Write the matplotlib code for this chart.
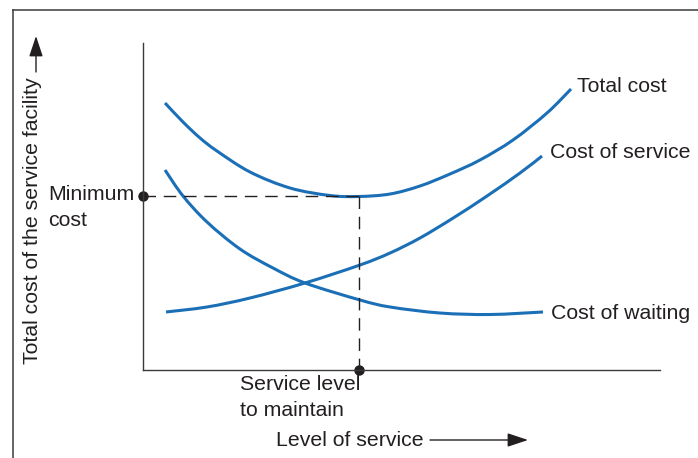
"""Queuing cost trade-off chart: total cost vs. level of service
"""

import matplotlib
matplotlib.use("Agg")
import matplotlib.pyplot as plt
import numpy as np
from matplotlib.lines import Line2D
from matplotlib.patches import FancyArrowPatch, PathPatch
from matplotlib.path import Path

# Curve readings (level of service 0-100, cost 0-100)
total_x = [4.26, 7.74, 11.03, 14.31, 20.70, 28.43, 36.17, 41.78, 47.78,
           53.58, 59.38, 65.18, 71.57, 78.14, 82.79]
total_y = [81.65, 75.84, 70.95, 66.97, 60.55, 55.66, 53.36, 53.06, 53.82,
           56.27, 59.94, 64.22, 70.34, 78.59, 85.93]

service_x = [4.45, 12.38, 20.70, 31.33, 41.97, 47.78, 53.58, 60.0, 66.54,
             72.92, 77.18]
service_y = [17.74, 19.27, 22.02, 26.61, 32.11, 35.78, 40.37, 46.48, 53.21,
             60.24, 65.44]

waiting_x = [4.26, 7.74, 12.38, 18.76, 25.15, 31.33, 41.97, 47.78, 57.45,
             67.12, 77.37]
waiting_y = [61.16, 53.21, 45.26, 37.00, 31.19, 26.61, 21.41, 19.27, 17.43,
             16.97, 17.74]

min_x = 41.8
min_y = 53.06

curve_labels = ["Total cost", "Cost of service", "Cost of waiting"]

W, H = 698, 458
BLUE = "#1b6fb6"
INK = "#231f20"
FONT = "Liberation Sans"
FS = 15.3

plt.rcParams["font.family"] = [FONT, "DejaVu Sans"]


def fx(px):
    return px / W


def fy(py):
    return 1 - py / H


def smooth_path(xs, ys):
    """Cubic Bezier path through the readings (Catmull-Rom tangents)"""
    p = np.column_stack([xs, ys])
    verts = [p[0]]
    codes = [Path.MOVETO]
    for i in range(len(p) - 1):
        p0 = p[i - 1] if i > 0 else p[i]
        p3 = p[i + 2] if i + 2 < len(p) else p[i + 1]
        c1 = p[i] + (p[i + 1] - p0) / 6
        c2 = p[i + 1] - (p3 - p[i]) / 6
        verts += [c1, c2, p[i + 1]]
        codes += [Path.CURVE4] * 3
    return Path(verts, codes)


fig = plt.figure(figsize=(W / 100, H / 100), dpi=100)
ax = fig.add_axes([fx(143), fy(370), (660 - 143) / W, (370 - 43) / H])
ax.set_xlim(0, 100)
ax.set_ylim(0, 100)
for side in ["top", "right"]:
    ax.spines[side].set_visible(False)
for side in ["left", "bottom"]:
    ax.spines[side].set_color("#3a3a3a")
    ax.spines[side].set_linewidth(1.0)
ax.set_xticks([])
ax.set_yticks([])
ax.patch.set_alpha(0)

# Cost curves
for xs, ys in [(total_x, total_y), (service_x, service_y), (waiting_x, waiting_y)]:
    ax.add_patch(PathPatch(smooth_path(xs, ys), facecolor="none",
                           edgecolor=BLUE, lw=2.2, capstyle="butt"))

# Minimum guides
ax.plot([0, min_x], [min_y, min_y], color=INK, lw=1.0, dashes=(9, 5.6))
ax.plot([min_x, min_x], [min_y, 0], color=INK, lw=1.0, dashes=(9, 5.6))
ax.plot([0, min_x], [min_y, 0], linestyle="none", marker="o", ms=6.5,
        color=INK, clip_on=False)

# Curve labels
ends = [(total_x[-1], total_y[-1]), (service_x[-1], service_y[-1]),
        (waiting_x[-1], waiting_y[-1])]
offsets = [(6, 3), (8, 4), (8, -2)]
for label, (ex, ey), off in zip(curve_labels, ends, offsets):
    ax.annotate(label, (ex, ey), xytext=off, textcoords="offset pixels",
                ha="left", va="center", fontsize=FS, color=INK,
                annotation_clip=False)

txt = dict(fontsize=FS, color=INK, transform=fig.transFigure)
fig.text(fx(48), fy(195), "Minimum", ha="left", va="center", **txt)
fig.text(fx(48), fy(221), "cost", ha="left", va="center", **txt)
fig.text(fx(240), fy(385), "Service level", ha="left", va="center", **txt)
fig.text(fx(240), fy(410), "to maintain", ha="left", va="center", **txt)
fig.text(fx(276), fy(440), "Level of service", ha="left", va="center", **txt)
fig.text(fx(33), fy(221), "Total cost of the service facility", ha="center",
         va="center", rotation=90, **txt)

# Axis arrows
arrow = dict(arrowstyle="-|>,head_length=0.9,head_width=0.3", color=INK,
             lw=1.0, shrinkA=0, shrinkB=0, mutation_scale=14)
fig.add_artist(FancyArrowPatch((fx(430), fy(440)), (fx(528), fy(440)),
                               transform=fig.transFigure, **arrow))
fig.add_artist(FancyArrowPatch((fx(36), fy(72)), (fx(36), fy(36)),
                               transform=fig.transFigure, **arrow))

# Page frame
frame = dict(color="#3a3a3a", lw=1.1, transform=fig.transFigure)
fig.add_artist(Line2D([fx(13), 1], [fy(10), fy(10)], **frame))
fig.add_artist(Line2D([fx(13), fx(13)], [0, fy(10)], **frame))

fig.savefig("out.png", dpi=100, facecolor="white")
